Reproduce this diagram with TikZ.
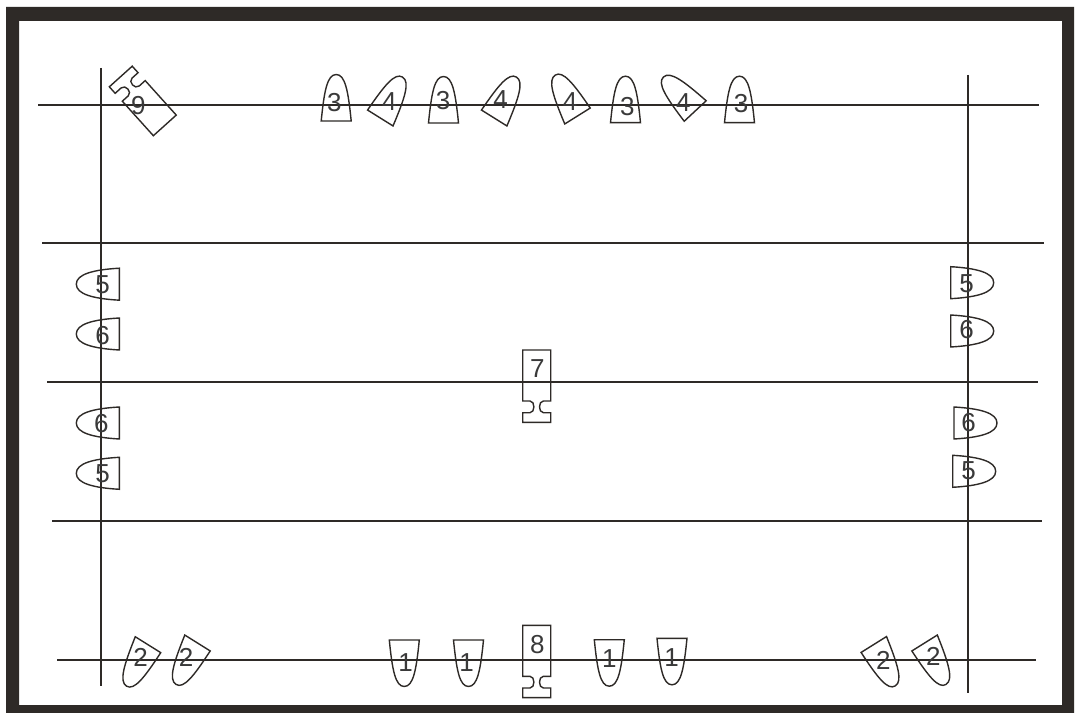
\documentclass[tikz,border=0pt]{standalone}
\usepackage{fontspec}
\setmainfont{Liberation Sans}
\definecolor{ink}{HTML}{2E2A27}
\definecolor{txt}{HTML}{3A3A3A}
\tikzset{
  x=0.75pt,y=-0.75pt,
  rail/.style={draw=ink,line width=1.1pt},
  outline/.style={draw=ink,line width=1.05pt,line join=miter,fill=none},
  digit/.style={inner sep=0pt,text=txt,font=\fontsize{19.5pt}{19.5pt}\selectfont},
  bullet/.pic={\path[outline] (-15,0) .. controls (-12,-30) and (-9,-46.5) .. (0,-46.5) .. controls (9,-46.5) and (12,-30) .. (15,0) -- cycle;},
  sidebullet/.pic={\path[outline] (-16,0) .. controls (-14.5,-26) and (-10,-43) .. (0,-43) .. controls (10,-43) and (14.5,-26) .. (16,0) -- cycle;},
  notched/.pic={\path[outline] (-14,0) -- (14,0) -- (14,51) -- (6.7,51) .. controls (1.5,51) and (1.5,62.7) .. (6.7,62.7) -- (14,62.7) -- (14,72.3) -- (-14,72.3) -- (-14,62.7) -- (-6.7,62.7) .. controls (-1.5,62.7) and (-1.5,51) .. (-6.7,51) -- (-14,51) -- cycle;}
}
\begin{document}
\begin{tikzpicture}
\useasboundingbox (0,0) rectangle (1076,713);
\fill[white] (0,0) rectangle (1076,713);
\fill[ink,even odd rule] (6,7) rectangle (1074,713) (19,21) rectangle (1062,705);
% rails
\foreach \n/\a/\b/\y in {h1/38/1039/105,h2/42/1044/243,h3/47/1038/382,h4/52/1042/521,h5/57/1036/660}{
  \coordinate (\n a) at (\a,\y); \coordinate (\n b) at (\b,\y);
  \draw[rail] (\n a) -- (\n b);
}
\foreach \n/\x/\a/\b in {v1/101/68/686,v2/968/75/693}{
  \coordinate (\n a) at (\x,\a); \coordinate (\n b) at (\x,\b);
  \draw[rail] (\n a) -- (\n b);
}
% bullets: x/y/visual rotation/slant
\foreach \x/\y/\r/\s in {
  336.2/121/0/0,443.5/123/0/0,625.5/122.7/0/0,739.5/122.7/0/0,
  380.3/118/-32/-.06,494.2/118/-32/-.06,577.5/116/32/.06,695.2/111/43/0,
  404.3/640/180/0,468.5/640/180/0,609.3/639.7/180/0,672/638.3/180/0,
  148/644.7/148/-.08,197.5/643/148/-.08,873.8/644.5/212/.08,924.6/643/212/.08}{
  \pic[shift={(\x,\y)},rotate=\r,xslant=\s] {bullet};
}
\foreach \x/\y/\r in {
  119.3/284.2/90,119.3/334/90,119.3/423/90,119.3/473.3/90,
  950.7/282.7/-90,950.7/331/-90,954/423/-90,952.7/471.3/-90}{
  \pic[shift={(\x,\y)},rotate=\r] {sidebullet};
}
\pic[shift={(536.7,350)}] {notched};
\pic[shift={(536.7,625.3)}] {notched};
\pic[shift={(164.8,125.4)},rotate=222,xscale=1.1,yscale=.91] {notched};
% labels
\foreach \n/\x/\y/\t in {
 a/334.3/102.7/3,b/389.3/101.7/4,c/443/100.5/3,d/500.7/100/4,e/570/101.7/4,f/627.3/106.7/3,g/683.3/102.7/4,h/741/103.3/3,
 i/138.3/105.7/9,
 j/102.7/285/5,k/102.7/336/6,l/101.3/423.3/6,m/102.7/473.3/5,
 n/966.7/283.3/5,o/966.7/330/6,p/968.7/422.7/6,q/968.7/470.7/5,
 r/537.3/368.3/7,s/537.3/645/8,
 t/140.7/657.7/2,u/186/657.7/2,v/405.7/662.3/1,w/466.7/662.3/1,x/609.3/658.3/1,y/671.7/657.7/1,z/883.3/660/2,zz/933.3/656/2}{
  \node[digit] (lab\n) at (\x,\y) {\t};
}
\end{tikzpicture}
\end{document}
